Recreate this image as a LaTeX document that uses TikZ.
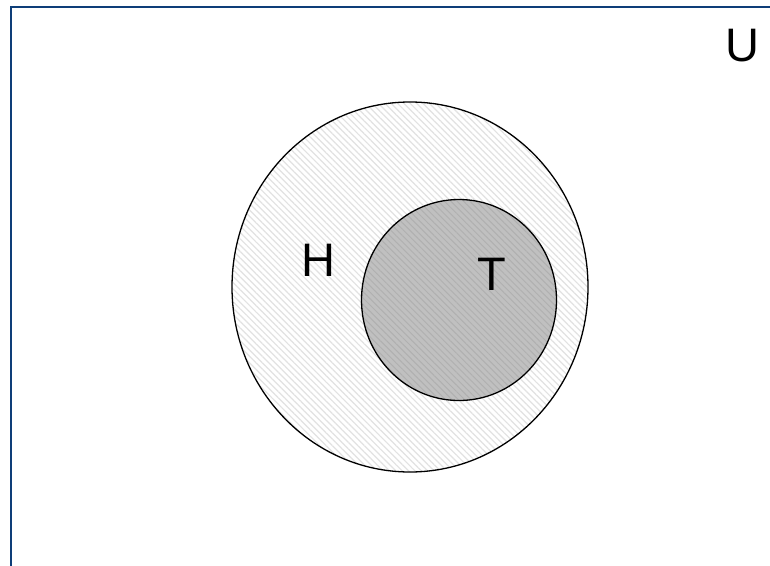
\documentclass[tikz,border=0pt]{standalone}
\usepackage{fontspec}
\setmainfont{Liberation Sans}
\usetikzlibrary{shapes.geometric,patterns.meta}
\definecolor{borderblue}{RGB}{14,62,120}
\definecolor{innergray}{RGB}{192,192,192}
\definecolor{innerstripe}{RGB}{176,176,176}
\definecolor{outerstripe}{RGB}{226,226,226}
\tikzset{
  setshape/.style={line width=1.3pt, ellipse, inner sep=0pt},
  setlabel/.style={font=\fontsize{47}{47}\selectfont, text=black, inner sep=0pt}
}
\begin{document}
\begin{tikzpicture}[x=1pt,y=-1pt]
\useasboundingbox (0,0) rectangle (770,565);
\fill[white] (0,0) rectangle (770,565);
\draw[borderblue, line width=2.2pt] (11,566) -- (11,7) -- (771,7);
\node[setshape, minimum width=356pt, minimum height=370pt, fill=white,
  postaction={pattern={Lines[angle=-45,distance=4.5pt,line width=1.2pt]}, pattern color=outerstripe}] (H) at (410,287) {};
\node[setshape, draw=black, minimum width=356pt, minimum height=370pt] (Hb) at (H) {};
\node[setshape, minimum width=195pt, minimum height=201pt, fill=innergray,
  postaction={pattern={Lines[angle=-45,distance=4.5pt,line width=1pt]}, pattern color=innerstripe}] (T) at (459,300) {};
\node[setshape, draw=black, minimum width=195pt, minimum height=201pt] (Tb) at (T) {};
\node[setlabel] (Hl) at (318,260) {H};
\node[setlabel] (Tl) at (492,274) {T};
\node[setlabel] (Ul) at (742,46) {U};
\end{tikzpicture}
\end{document}
